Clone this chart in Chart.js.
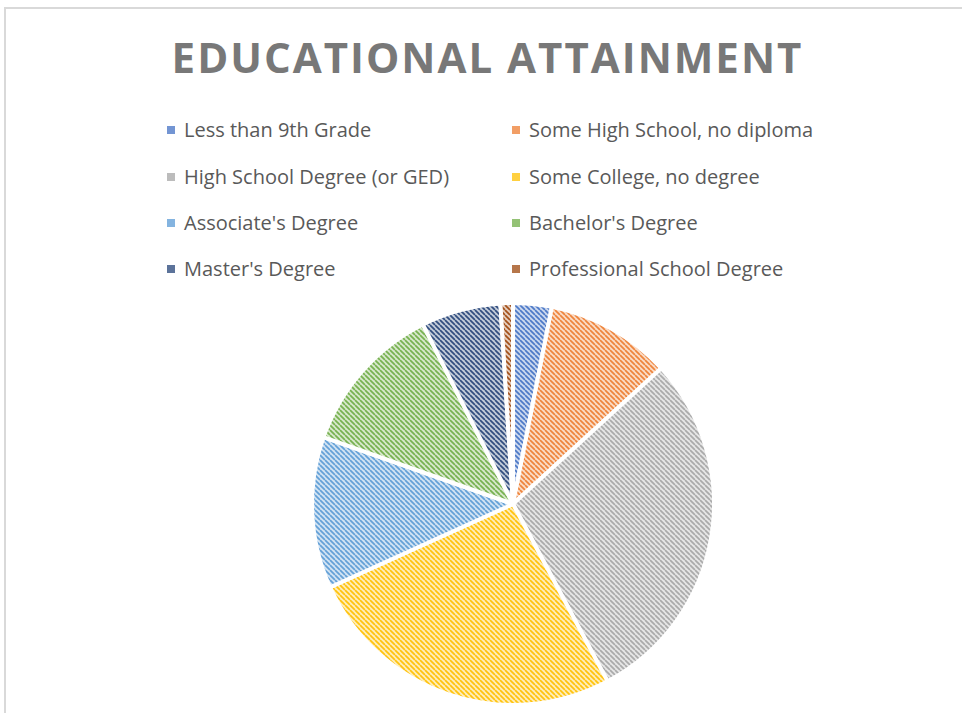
<!DOCTYPE html>
<html>
<head>
<meta charset="utf-8">
<script src="https://cdn.jsdelivr.net/npm/chart.js@4/dist/chart.umd.min.js"></script>
<style>
  html, body { margin: 0; padding: 0; background: #ffffff; }
  #wrap { position: relative; width: 962px; height: 713px; overflow: hidden; }
  #frame { position: absolute; left: 4px; top: 7px; width: 1000px; height: 800px;
           border: 2px solid #d9d9d9; box-sizing: border-box; }
  #title { position: absolute; left: 0; top: 29px; width: 975px; text-align: center;
           font-family: "Open Sans", sans-serif; font-weight: bold; font-size: 42px;
           line-height: 56px; color: #787878; letter-spacing: 2px; }
  .item { position: absolute; height: 24px; line-height: 24px; white-space: nowrap;
          font-family: "Open Sans", sans-serif; font-size: 20px; color: #595959; }
  .swatch { position: absolute; top: 8px; width: 8px; height: 8px; }
  .item span.txt { position: absolute; left: 17px; top: 0; }
  #c { position: absolute; left: 0; top: 0; }
</style>
</head>
<body>
<div id="wrap">
  <div id="frame"></div>
  <div id="title">EDUCATIONAL ATTAINMENT</div>
  <div id="legend"></div>
  <canvas id="c" width="962" height="713"></canvas>
</div>
<script>
// Share of population by highest level of education (%)
const categories = [
  "Less than 9th Grade",
  "Some High School, no diploma",
  "High School Degree (or GED)",
  "Some College, no degree",
  "Associate's Degree",
  "Bachelor's Degree",
  "Master's Degree",
  "Professional School Degree"
];
const shares = [3.1, 10.1, 29.0, 26.0, 12.2, 12.2, 6.4, 1.0];

// Office-style series colours
const baseColors = ["#4472c4", "#ed7d31", "#a5a5a5", "#ffc000", "#5b9bd5", "#70ad47", "#264478", "#9e480e"];

function mix(hex, t) {
  const n = parseInt(hex.slice(1), 16);
  const r = (n >> 16) & 255, g = (n >> 8) & 255, b = n & 255;
  const m = v => Math.round(v + (255 - v) * t);
  return `rgb(${m(r)},${m(g)},${m(b)})`;
}

// Hatched fill: pale tint crossed by diagonal strokes of the series colour
function hatch(hex) {
  const size = 5;
  const tile = document.createElement("canvas");
  tile.width = size; tile.height = size;
  const t = tile.getContext("2d");
  t.fillStyle = mix(hex, 0.72);
  t.fillRect(0, 0, size, size);
  t.strokeStyle = mix(hex, 0.05);
  t.lineWidth = 1.7;
  t.beginPath();
  for (let k = -1; k <= 1; k++) {
    t.moveTo(k * size, 0);
    t.lineTo(k * size + size, size);
  }
  t.stroke();
  return document.getElementById("c").getContext("2d").createPattern(tile, "repeat");
}

// Two-column legend
const legendRows = [130, 177, 223, 269];
const legendCols = [167, 512];
const legend = document.getElementById("legend");
categories.forEach((name, i) => {
  const row = Math.floor(i / 2), col = i % 2;
  const el = document.createElement("div");
  el.className = "item";
  el.style.left = legendCols[col] + "px";
  el.style.top = (legendRows[row] - 12) + "px";
  const sw = document.createElement("div");
  sw.className = "swatch";
  sw.style.background = mix(baseColors[i], 0.25);
  const tx = document.createElement("span");
  tx.className = "txt";
  tx.textContent = name;
  el.appendChild(sw);
  el.appendChild(tx);
  legend.appendChild(el);
});

new Chart(document.getElementById("c"), {
  type: "pie",
  data: {
    labels: categories,
    datasets: [{
      data: shares,
      backgroundColor: baseColors.map(hatch),
      borderColor: "#ffffff",
      borderWidth: 4
    }]
  },
  options: {
    responsive: false,
    animation: false,
    layout: { padding: { left: 310, right: 246, top: 301, bottom: 6 } },
    plugins: {
      legend: { display: false },
      title: { display: false },
      tooltip: { enabled: false }
    }
  }
});
</script>
</body>
</html>
